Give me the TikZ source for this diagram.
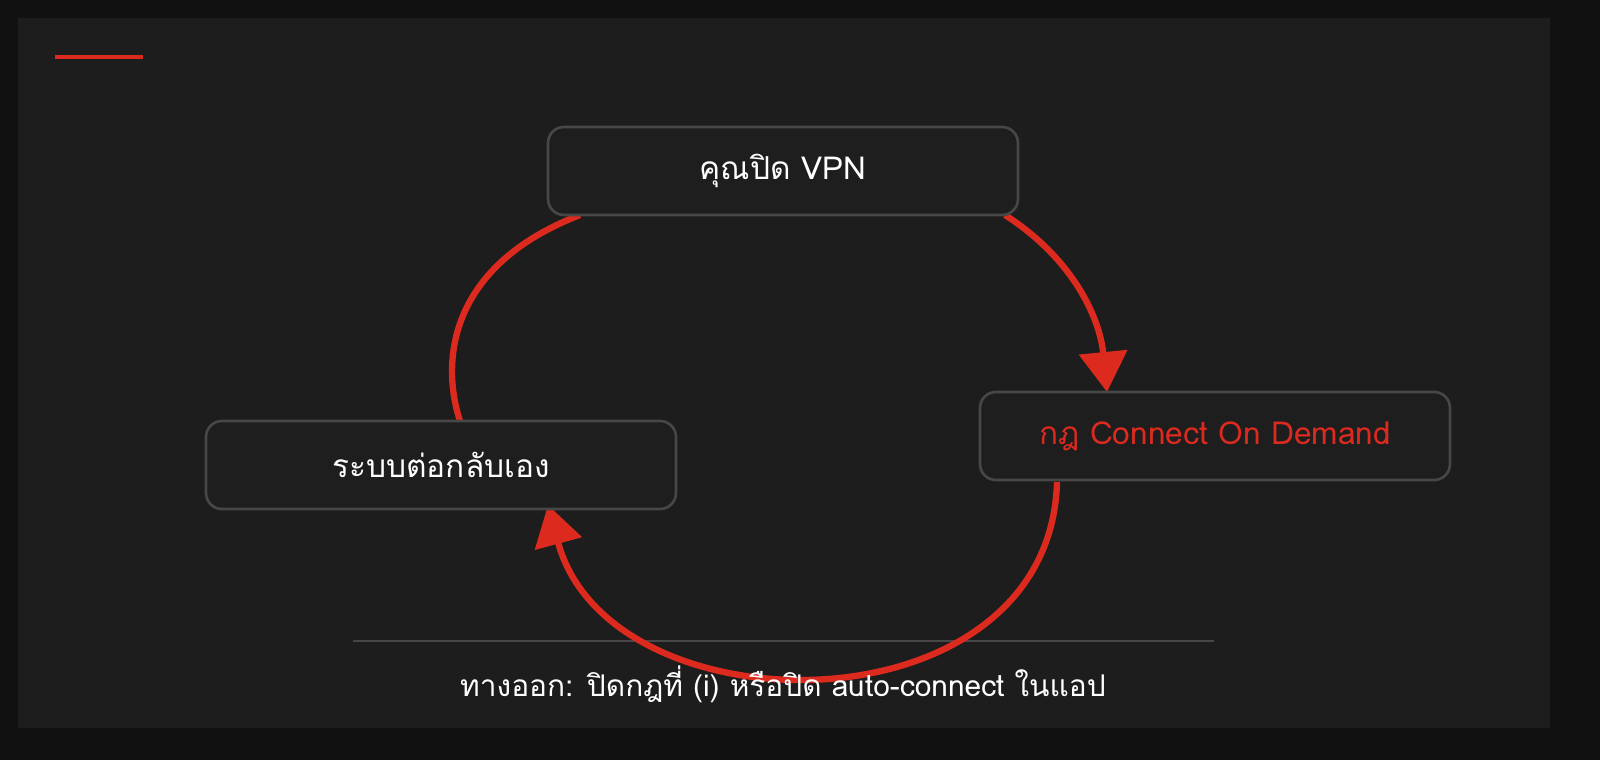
\documentclass[tikz,border=0pt]{standalone}
\usepackage{fontspec}
\newfontfamily\thaifont[Script=Thai]{Loma}
\usetikzlibrary{arrows.meta}
\definecolor{framec}{HTML}{111111}
\definecolor{panelc}{HTML}{1D1D1D}
\definecolor{boxc}{HTML}{1E1E1E}
\definecolor{edgec}{HTML}{474747}
\definecolor{redc}{HTML}{DC2A1E}
\tikzset{
  stagebox/.style={draw=edgec,line width=1.5pt,fill=boxc,rounded corners=9pt,
    minimum width=9.4cm,minimum height=1.76cm,font=\thaifont\fontsize{18}{21}\selectfont,text=white},
  cyclearrow/.style={draw=redc,line width=3.6pt,-{Triangle[length=0.8cm,width=0.95cm]}}
}
\begin{document}
\begin{tikzpicture}[x=0.02cm,y=-0.02cm]
  \fill[framec] (0,0) rectangle (1600,760);
  \fill[panelc] (18,18) rectangle (1550,728);
  \draw[redc,line width=2.2pt] (55,57) -- (143,57);
  \draw[edgec,line width=0.8pt] (353,641) -- (1214,641);
  \coordinate (a1) at (1005,215);
  \coordinate (a2) at (1107,392);
  \coordinate (b1) at (1057,482);
  \coordinate (b2) at (548,505);
  \coordinate (c1) at (580,215);
  \coordinate (c2) at (460,421);
  \draw[cyclearrow] (a1) .. controls (1075,260) and (1100,320) .. (a2);
  \draw[cyclearrow] (b1) .. controls (1050,735) and (610,735) .. (b2);
  \draw[draw=redc,line width=3.6pt] (c1) .. controls (450,265) and (440,360) .. (c2);
  \node[stagebox] (off) at (783,171) {คุณปิด VPN};
  \node[stagebox,text=redc] (rule) at (1215,436) {กฎ Connect On Demand};
  \node[stagebox] (back) at (441,465) {ระบบต่อกลับเอง};
  \node[font=\thaifont\fontsize{17}{20}\selectfont,text=white] (note) at (783,684)
    {ทางออก: ปิดกฎที่ (i) หรือปิด auto-connect ในแอป};
\end{tikzpicture}
\end{document}
